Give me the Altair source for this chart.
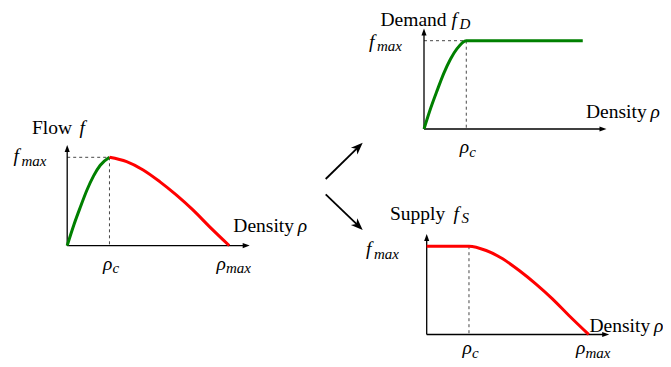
import altair as alt
import pandas as pd

# ---- data: fundamental diagram, normalised (rho / rho_max , f / f_max) ----
free_rho = [0.0, 0.041, 0.082, 0.122, 0.163, 0.204, 0.261]
free_f = [0.0, 0.234, 0.44, 0.63, 0.79, 0.91, 1.0]
cong_rho = [0.261, 0.367, 0.469, 0.571, 0.673, 0.776, 0.878, 1.0]
cong_f = [1.0, 0.951, 0.857, 0.725, 0.574, 0.404, 0.215, 0.0]
rho_c = 0.261
demand_end = 0.98

panel_names = ["flow", "demand", "supply"]
panel_titles = ["Flow", "Demand", "Supply"]
title_subs = ["", "D", "S"]
axis_word = "Density"
sym_f, sym_rho = "f", "ρ"
sub_c, sub_max = "c", "max"

GREEN, RED = "#008000", "#ff0000"

# ---- layout (pixels of the page) ----
RU, FU = 162.0, 88.3          # pixels per rho_max and per f_max
AX_X, AX_Y = 182.5, 100.5     # axis lengths
origins = {"flow": (67.2, 245.6), "demand": (424.0, 129.0), "supply": (426.7, 334.5)}

XS = alt.Scale(domain=[8, 663], nice=False, zero=False)
YS = alt.Scale(domain=[8, 359], nice=False, zero=False, reverse=True)
X = alt.X("x:Q", scale=XS, axis=None)
Y = alt.Y("y:Q", scale=YS, axis=None)

# curves
rows = []
def add(panel, seg, color, rhos, fs):
    ox, oy = origins[panel]
    for i, (r, f) in enumerate(zip(rhos, fs)):
        rows.append(dict(x=ox + r * RU, y=oy - f * FU, seg=panel + seg, color=color, order=i))

add("flow", "g", GREEN, free_rho, free_f)
add("flow", "r", RED, cong_rho, cong_f)
add("demand", "g", GREEN, free_rho + [demand_end], free_f + [1.0])
add("supply", "r", RED, [0.0] + cong_rho, [1.0] + cong_f)
curves = pd.DataFrame(rows)

# axes, arrowheads, dashed guides
axes, heads, dashes = [], [], []
for p in panel_names:
    ox, oy = origins[p]
    axes.append(dict(x=ox, y=oy, x2=ox, y2=oy - AX_Y + 4))
    axes.append(dict(x=ox, y=oy, x2=ox + AX_X - 4, y2=oy))
    heads.append(dict(x=ox, y=oy - AX_Y, ang=0))
    heads.append(dict(x=ox + AX_X, y=oy, ang=90))
    xc = ox + rho_c * RU
    dashes.append(dict(x=xc, y=oy - FU, x2=xc, y2=oy))
    if p != "supply":
        dashes.append(dict(x=ox, y=oy - FU, x2=xc, y2=oy - FU))
axes = pd.DataFrame(axes)
heads = pd.DataFrame(heads)
dashes = pd.DataFrame(dashes)

# big arrows between panels
big = pd.DataFrame([
    dict(x=325.7, y=179.0, x2=358.5, y2=146.8, tx=362.7, ty=142.7, ang=45.5),
    dict(x=325.7, y=194.3, x2=358.5, y2=225.9, tx=362.7, ty=230.0, ang=134.0),
])

# text
roman, ital, sub = [], [], []
title_pos = {"flow": (32, 134, 79.5, 0), "demand": (380.5, 25.5, 451.5, 459.5), "supply": (390, 219.5, 453.5, 461.5)}
for p, t, s in zip(panel_names, panel_titles, title_subs):
    tx, ty, fx, sx = title_pos[p]
    roman.append(dict(x=tx, y=ty, text=t))
    ital.append(dict(x=fx, y=ty, text=sym_f))
    if s:
        sub.append(dict(x=sx, y=ty + 3.5, text=s))
# f_max labels
fmax_pos = {"flow": (13.5, 162), "demand": (369, 47.5), "supply": (366, 255)}
for p in panel_names:
    fx, fy = fmax_pos[p]
    ital.append(dict(x=fx, y=fy, text=sym_f))
    sub.append(dict(x=fx + 8, y=fy + 3.5, text=sub_max))
# density labels
dens_pos = {"flow": (233.3, 231.7), "demand": (586, 118), "supply": (589.5, 331.7)}
for p in panel_names:
    dx, dy = dens_pos[p]
    roman.append(dict(x=dx, y=dy, text=axis_word))
    ital.append(dict(x=dx + 64.5, y=dy, text=sym_rho))
# rho_c / rho_max under the density axis
for p in panel_names:
    ox, oy = origins[p]
    xc = ox + rho_c * RU
    lift = 4.5 if p == "supply" else 0.0
    ital.append(dict(x=xc - 6.5, y=oy + 24 - lift, text=sym_rho))
    sub.append(dict(x=xc + 3, y=oy + 27.5 - lift, text=sub_c))
    if p != "demand":
        xm = ox + RU
        ital.append(dict(x=xm - 12.6, y=oy + 24 - lift, text=sym_rho))
        sub.append(dict(x=xm - 3.2, y=oy + 27.5 - lift, text=sub_max))
roman, ital, sub = pd.DataFrame(roman), pd.DataFrame(ital), pd.DataFrame(sub)

AXIS_HEAD = "M0,0L0.55,1.5L-0.55,1.5Z"
STEALTH = "M0,0L0.5,1.3L0,0.95L-0.5,1.3Z"

dash_layer = alt.Chart(dashes).mark_rule(color="#333333", strokeWidth=0.9, strokeDash=[3, 3]).encode(
    x=X, y=Y, x2="x2:Q", y2="y2:Q")
axis_layer = alt.Chart(axes).mark_rule(color="black", strokeWidth=1.3).encode(
    x=X, y=Y, x2="x2:Q", y2="y2:Q")
head_layer = alt.Chart(heads).mark_point(shape=AXIS_HEAD, filled=True, color="black", size=87, opacity=1).encode(
    x=X, y=Y, angle=alt.Angle("ang:Q", scale=None))
curve_layer = alt.Chart(curves).mark_line(strokeWidth=3, interpolate="monotone").encode(
    x=X, y=Y, detail="seg:N", color=alt.Color("color:N", scale=None), order="order:Q")
big_line = alt.Chart(big).mark_rule(color="black", strokeWidth=1.8).encode(
    x=X, y=Y, x2="x2:Q", y2="y2:Q")
big_head = alt.Chart(big).mark_point(shape=STEALTH, filled=True, color="black", size=340, opacity=1).encode(
    x=alt.X("tx:Q", scale=XS, axis=None),
    y=alt.Y("ty:Q", scale=YS, axis=None),
    angle=alt.Angle("ang:Q", scale=None))

FONT = "Liberation Serif"
t_roman = alt.Chart(roman).mark_text(align="left", baseline="alphabetic", font=FONT, fontSize=19.5, color="black").encode(
    x=X, y=Y, text="text:N")
t_ital = alt.Chart(ital).mark_text(align="left", baseline="alphabetic", font=FONT, fontSize=19.5, fontStyle="italic", color="black").encode(
    x=X, y=Y, text="text:N")
t_sub = alt.Chart(sub).mark_text(align="left", baseline="alphabetic", font=FONT, fontSize=15, fontStyle="italic", color="black").encode(
    x=X, y=Y, text="text:N")

chart = alt.layer(
    dash_layer, axis_layer, head_layer, curve_layer, big_line, big_head, t_roman, t_ital, t_sub
).properties(width=655, height=351, padding=0, autosize="none").configure_view(stroke=None)

chart.save("out.html", embed_options={"renderer": "svg", "actions": False})
